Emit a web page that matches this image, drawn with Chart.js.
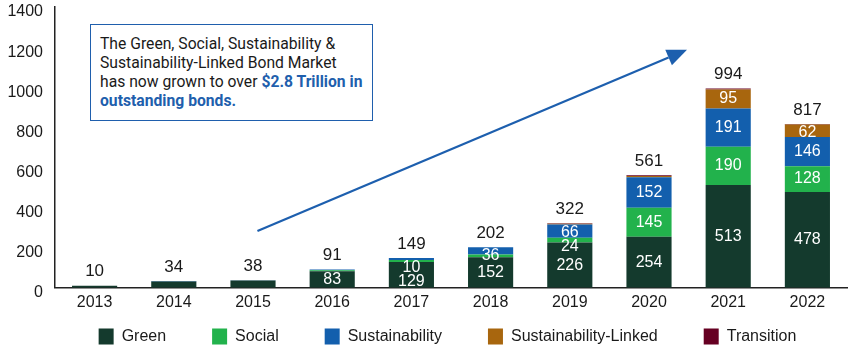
<!DOCTYPE html>
<html>
<head>
<meta charset="utf-8">
<script src="https://cdn.jsdelivr.net/npm/chart.js@4"></script>
<style>
  html, body { margin: 0; padding: 0; background: #fff; }
  #wrap { position: relative; width: 860px; height: 352px; }
  #note {
    position: absolute; left: 90px; top: 24px; width: 272px; height: 77px;
    padding: 9px 0 9px 9px; white-space: nowrap;
    border: 1.5px solid #1f5fad; background: #fff;
    font-family: Roboto, "Liberation Sans", sans-serif; font-size: 15.7px; line-height: 19px;
    color: #1a1a1a;
  }
  #note b { color: #1f5fad; }
</style>
</head>
<body>
<div id="wrap">
  <canvas id="barChart" width="860" height="352"></canvas>
  <div id="note">The Green, Social, Sustainability &amp;<br>Sustainability-Linked Bond Market<br>has now grown to over <b>$2.8 Trillion in<br>outstanding bonds.</b></div>
</div>
<script>
var years = ["2013", "2014", "2015", "2016", "2017", "2018", "2019", "2020", "2021", "2022"];
var green = [10, 32, 36, 83, 129, 152, 226, 254, 513, 478];
var social = [0, 0, 0, 4, 10, 14, 24, 145, 190, 128];
var sustain = [0, 2, 2, 4, 10, 36, 66, 152, 191, 146];
var linked = [0, 0, 0, 0, 0, 0, 3, 6, 95, 62];
var transition = [0, 0, 0, 0, 0, 0, 3, 4, 5, 3];
var totals = [10, 34, 38, 91, 149, 202, 322, 561, 994, 817];

// which segments carry a value label inside the bar
var greenShow = [0, 0, 0, 1, 1, 1, 1, 1, 1, 1];
var socialShow = [0, 0, 0, 0, 1, 0, 1, 1, 1, 1];
var sustainShow = [0, 0, 0, 0, 0, 1, 1, 1, 1, 1];
var linkedShow = [0, 0, 0, 0, 0, 0, 0, 0, 1, 1];
var transitionShow = [0, 0, 0, 0, 0, 0, 0, 0, 0, 0];

var yTicks = [0, 200, 400, 600, 800, 1000, 1200, 1400];

var colors = ["#143a2d", "#22b24c", "#135fad", "#a8660e", "#660022"];
var axisFont = { family: "'Liberation Sans', Arial, sans-serif", size: 16 };

var labelPlugin = {
  id: "labels",
  afterDatasetsDraw: function(chart) {
    var ctx = chart.ctx;
    var shows = [greenShow, socialShow, sustainShow, linkedShow, transitionShow];
    ctx.save();
    ctx.textAlign = "center";
    ctx.textBaseline = "middle";
    for (var i = 0; i < years.length; i++) {
      var topY = null, prevY = -1e9;
      var items = [];
      for (var d = chart.data.datasets.length - 1; d >= 0; d--) {
        var el = chart.getDatasetMeta(d).data[i];
        if (chart.data.datasets[d].data[i] > 0 && topY === null) topY = el.y;
        if (shows[d][i]) items.push({ el: el, v: chart.data.datasets[d].data[i] });
      }
      ctx.font = "16px 'Liberation Sans', Arial, sans-serif";
      ctx.fillStyle = "#ffffff";
      items.forEach(function(it) {
        var y = Math.max((it.el.y + it.el.base) / 2, it.el.y + 8, prevY + 14);
        ctx.fillText(String(it.v), it.el.x, y);
        prevY = y;
      });
      var x = chart.getDatasetMeta(0).data[i].x;
      ctx.font = "17px 'Liberation Sans', Arial, sans-serif";
      ctx.fillStyle = "#1a1a1a";
      ctx.fillText(String(totals[i]), x, topY - 14);
    }
    ctx.restore();
  }
};

var arrowPlugin = {
  id: "arrow",
  afterDatasetsDraw: function(chart) {
    var xs = chart.scales.x, ys = chart.scales.y, ctx = chart.ctx;
    var x1 = xs.getPixelForValue(2.056), y1 = ys.getPixelForValue(283);
    var x2 = xs.getPixelForValue(7.48), y2 = ys.getPixelForValue(1187);
    var ang = Math.atan2(y2 - y1, x2 - x1);
    var len = 20, half = 8.5;
    var bx = x2 - len * Math.cos(ang), by = y2 - len * Math.sin(ang);
    ctx.save();
    ctx.strokeStyle = "#1d5fae";
    ctx.fillStyle = "#1d5fae";
    ctx.lineWidth = 2.2;
    ctx.beginPath();
    ctx.moveTo(x1, y1);
    ctx.lineTo(bx, by);
    ctx.stroke();
    ctx.beginPath();
    ctx.moveTo(x2, y2);
    ctx.lineTo(bx + half * Math.sin(ang), by - half * Math.cos(ang));
    ctx.lineTo(bx - half * Math.sin(ang), by + half * Math.cos(ang));
    ctx.closePath();
    ctx.fill();
    ctx.restore();
  }
};

// legend needs wide gaps between items but little height: move it after layout
var legendShift = {
  id: "legendShift",
  afterLayout: function(chart) {
    var lg = chart.legend;
    var dy = (chart.height - 69.5) - lg.top;
    lg.top += dy; lg.bottom += dy;
    lg.left += 24; lg.right += 24;
  }
};

function ds(label, data, color) {
  return {
    label: label, data: data, backgroundColor: color,
    categoryPercentage: 1, barPercentage: 0.57
  };
}

new Chart("barChart", {
  type: "bar",
  data: {
    labels: years,
    datasets: [
      ds("Green", green, colors[0]),
      ds("Social", social, colors[1]),
      ds("Sustainability", sustain, colors[2]),
      ds("Sustainability-Linked", linked, colors[3]),
      ds("Transition", transition, colors[4])
    ]
  },
  options: {
    responsive: false,
    animation: false,
    layout: { padding: { top: 7, right: 13, left: 0, bottom: -31 } },
    plugins: {
      tooltip: { enabled: false },
      legend: {
        position: "bottom",
        maxHeight: 66,
        labels: {
          boxWidth: 15, boxHeight: 16, padding: 46, color: "#1a1a1a",
          font: { family: "'Liberation Sans', Arial, sans-serif", size: 16 }
        }
      }
    },
    scales: {
      x: {
        stacked: true,
        grid: { display: false, drawTicks: false },
        border: { color: "#222", width: 1.5 },
        ticks: { color: "#1a1a1a", font: axisFont, padding: 5 }
      },
      y: {
        stacked: true,
        min: 0, max: 1400,
        afterBuildTicks: function(s) { s.ticks = yTicks.map(function(v) { return { value: v }; }); },
        afterFit: function(s) { s.width = 55; s.paddingTop = 0; s.paddingBottom = 0; },
        grid: { display: false, drawTicks: false },
        border: { color: "#222", width: 1.5 },
        ticks: {
          color: "#1a1a1a", font: axisFont, padding: 12, labelOffset: 5,
          callback: function(v) { return String(v); }
        }
      }
    }
  },
  plugins: [labelPlugin, arrowPlugin, legendShift]
});
</script>
</body>
</html>
